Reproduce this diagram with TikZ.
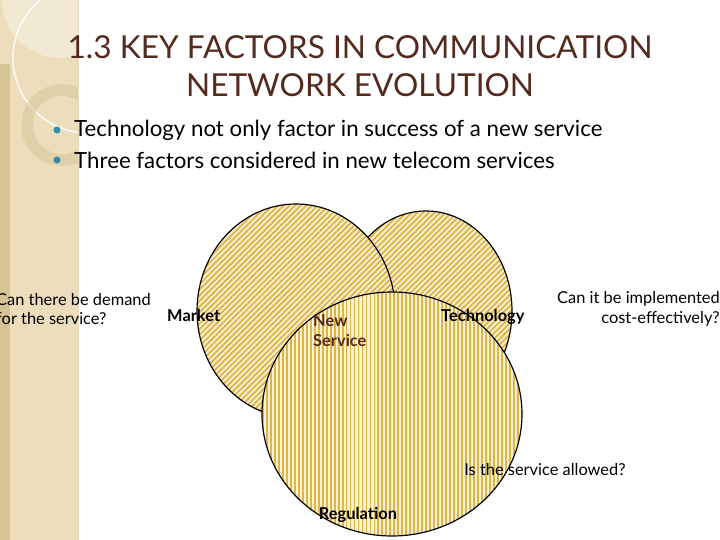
\documentclass[tikz,border=0pt]{standalone}
\usepackage{fontspec}
\setmainfont{Lato}
\usetikzlibrary{patterns,patterns.meta}
\definecolor{cream}{RGB}{250,242,215}
\definecolor{hatch}{RGB}{225,180,70}
\definecolor{side}{RGB}{236,222,186}
\definecolor{sidedark}{RGB}{214,196,150}
\definecolor{brownt}{RGB}{84,42,30}
\definecolor{teal}{RGB}{50,140,165}
\tikzset{
  venn/.style={draw=black, line width=1pt},
  diag/.style={pattern={Lines[angle=45, distance=3.4pt, line width=1.6pt]}, pattern color=hatch},
  vert/.style={pattern={Lines[angle=90, distance=3.4pt, line width=1.6pt]}, pattern color=hatch},
  lbl/.style={font=\fontsize{14}{17}\selectfont, text=black, inner sep=0pt},
  blbl/.style={font=\fontsize{14}{17}\selectfont\bfseries, text=black, inner sep=0pt},
  bul/.style={font=\fontsize{19}{22}\selectfont, anchor=west, inner sep=0pt},
  dot/.style={circle, fill=teal, inner sep=0pt, minimum size=6pt}
}
\begin{document}
\begin{tikzpicture}[x=0.03cm,y=-0.03cm]
\useasboundingbox (0,0) rectangle (720,540);
\fill[white] (0,0) rectangle (720,540);
% sidebar
\fill[side] (0,0) rectangle (78,540);
\fill[sidedark] (0,64) rectangle (10,540);
\draw[sidedark!60!white, line width=1pt] (78,0) -- (78,540);
\begin{scope}
\clip (0,0) rectangle (78,540);
\fill[white, opacity=0.35] (60,0) circle (58);
\draw[white, line width=1.5pt, opacity=0.8] (88,58) circle (75);
\draw[sidedark, line width=10pt, opacity=0.5] (62,125) circle (35);
\end{scope}
% title
\node[font=\fontsize{27}{32}\selectfont, text=brownt, align=center] (title) at (360,66) {1.3 KEY FACTORS IN COMMUNICATION\\NETWORK EVOLUTION};
\node[dot] (d1) at (57,130) {};
\node[dot] (d2) at (57,160) {};
\node[bul] (b1) at (74,130) {Technology not only factor in success of a new service};
\node[bul] (b2) at (74,160) {Three factors considered in new telecom services};
% venn
\fill[cream] (426,311) ellipse [x radius=86, y radius=100];
\path[venn, diag] (426,311) ellipse [x radius=86, y radius=100];
\fill[cream] (296,311) ellipse [x radius=99, y radius=107];
\path[venn, diag] (296,311) ellipse [x radius=99, y radius=107];
\fill[cream] (392,414) ellipse [x radius=130, y radius=122];
\path[venn, vert] (392,414) ellipse [x radius=130, y radius=122];
% labels
\node[lbl, anchor=west, align=left] (q1) at (-4,309) {Can there be demand\\for the service?};
\node[blbl, anchor=west] (market) at (167,315) {Market};
\node[blbl, anchor=west, align=left, text=brownt] (ns) at (313,331) {New\\Service};
\node[blbl, anchor=west] (tech) at (441,317) {Technology};
\node[lbl, anchor=east, align=right] (q2) at (720,309) {Can it be implemented\\cost-effectively?};
\node[lbl] (q3) at (545,470) {Is the service allowed?};
\node[blbl] (reg) at (358,515) {Regulation};
\end{tikzpicture}
\end{document}
